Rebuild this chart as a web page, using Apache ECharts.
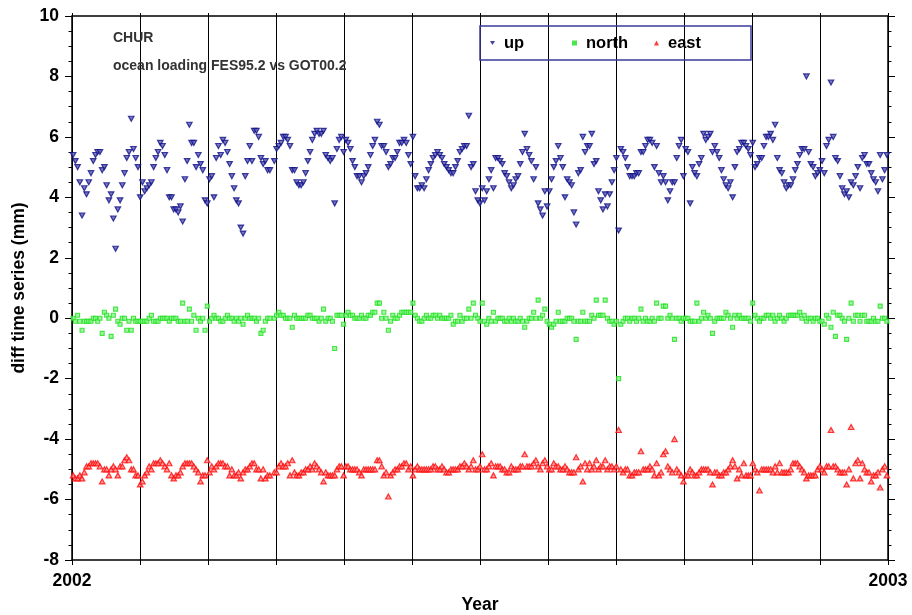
<!DOCTYPE html>
<html>
<head>
<meta charset="utf-8">
<title>CHUR ocean loading difference</title>
<script src="https://cdn.jsdelivr.net/npm/echarts@6/dist/echarts.min.js"></script>
<style>
  html, body { margin: 0; padding: 0; background: #fff; }
  #chart { width: 912px; height: 615px; }
</style>
</head>
<body>
<div id="chart"></div>
<script>
// Daily differences (mm) for station CHUR, 2002, one value per day (null = no solution).
const upValues = [
  5.4,5.2,5.0,4.5,3.4,4.3,4.1,4.5,4.8,5.2, 5.4,5.5,5.5,4.9,5.0,4.4,3.9,4.1,3.3,2.3, 3.6,3.9,4.4,4.8,5.3,5.5,6.6,5.6,5.3,5.0,
  4.0,4.5,4.2,4.3,4.4,4.5,5.0,5.3,5.5,5.8, 5.7,5.4,4.9,4.0,4.0,3.6,3.6,3.5,3.7,3.2, 4.6,5.2,6.4,5.8,5.8,5.0,5.4,5.1,4.9,3.9, 3.8,
  4.6,4.7,4.0,5.3,5.7,5.4,5.9,5.8,5.5,5.1, 4.7,4.3,3.9,3.8,3.0,2.8,4.7,5.2,5.7,5.2, 6.2,6.2,6.0,5.3,5.1,5.2,4.9,4.9,
  null,
  5.2,5.6,5.7,5.8,6.0,6.0,5.9,5.7,4.9,4.9, 4.5,4.4,4.4,4.5,4.8,5.2,5.5,5.9,6.1,6.2, 6.1,6.1,6.2,5.4,5.3,5.2,5.3,3.8,5.6,5.9, 6.0,
  5.5,5.9,5.8,5.6,5.2,5.0,4.7,4.7,4.5,4.7, 4.8,5.0,5.4,5.7,5.9,6.5,6.4,5.7,5.7,5.5, 5.0,5.1,5.3,5.3,5.5,5.8,5.8,5.9,5.8,5.4, 5.1,6.0,
  4.7,4.3,4.3,4.4,4.3,4.6,4.9,5.1,5.3,5.4, 5.5,5.4,5.3,5.1,5.0,4.9,4.8,4.8,5.0,5.2,
  5.5,5.6,5.7,5.7,6.7,5.0,5.1,4.2,3.9,3.8, 4.3,3.9,4.2,4.6,4.9,4.3,5.3,5.3,5.2,5.1,
  4.8,4.7,4.5,4.3,4.4,4.6,4.7,5.1,5.5,6.1, 5.6,5.4,5.2,4.6,5.0,3.8,3.6,3.4,4.2,3.7,
  4.2,4.6,5.0,5.2,5.7,5.3,5.0,4.0,4.6,4.5, 4.4,3.5,3.1,4.8,4.9,6.0,5.5,5.7,5.7,6.1,
  5.1,5.2,4.2,3.9,3.6,4.1,3.7,4.1,4.5,4.9, 5.3,2.9,5.6,5.5,5.3,5.0,4.7,4.7,4.7,4.8,
  4.8,5.5,5.5,5.7,5.9,5.9,5.8,5.0,5.7,4.8, 4.5,4.7,4.5,3.9,4.2,4.5,4.5,5.3,5.7,5.9,
  4.7,5.6,5.5,3.8,5.0,4.8,4.7,5.1,5.3,6.1, 5.9,6.0,6.1,5.5,5.7,5.5,5.3,4.9,4.6,4.4,
  4.3,4.5,4.0,5.0,5.5,5.6,5.8,5.8,5.7,5.6, 5.4,5.8,5.0,5.1,5.3,5.3,5.7,6.0,6.0,6.1,
  5.9,6.4,5.3,4.9,4.8,4.5,4.3,4.4,4.4,4.6, 4.9,5.1,5.4,5.6,5.6,8.0,5.5,5.1,5.0,4.7,
  4.8,4.9,5.2,4.8,5.7,5.9,7.8,6.0,5.3,5.2, 4.7,4.3,4.1,4.2,4.0,4.5,4.4,4.7,5.0,4.3,
  5.3,5.4,5.1,5.1,4.8,4.6,4.5,4.2,5.4,4.6, 4.9,5.4
];

const northValues = [
  0,-0.1,0.1,-0.1,-0.4,-0.1,-0.1,-0.1,-0.1,0, 0,-0.1,0,-0.5,0.2,0.1,0,-0.6,0.1,0.3, -0.1,-0.2,0,0,-0.4,-0.1,-0.4,0,-0.1,-0.1,
  -0.1,-0.1,-0.1,-0.1,0,0.1,-0.1,-0.1,-0.1,0, 0,0,0,-0.1,0,0,0,-0.1,-0.1,0.5, -0.1,-0.1,0.3,-0.1,0.1,-0.4,0,-0.1,0,-0.4, 0.4,
  -0.1,0,0.1,0,0,-0.1,-0.1,0,0.1,0, 0,-0.1,0,-0.1,0,-0.2,0,0.1,0,0, 0,-0.1,0,-0.5,-0.4,-0.1,0,0,
  null,
  0,0.1,0.2,0.1,0.1,0,0,0,-0.3,0.1, 0,0,0,0,0,0.1,0.1,0,0,0, -0.1,0,0.3,-0.1,0,0,-0.1,-1.0,0.1,0.1, 0.1,
  -0.2,0.1,0.2,0.1,0.1,0,0,0,0.1,0, 0,0.1,0.1,0.2,0.2,0.5,0.5,0,0.2,0, -0.4,-0.1,0.1,0,0,0.1,0.2,0.2,0.2,0.2, 0.2,0.5,
  0.1,0,-0.1,-0.1,0,0.1,0,0,0.1,0.1, 0,0.1,0,0,0,0,0.1,-0.2,-0.1,-0.1,
  0.1,-0.1,0,0,0.3,0,0.5,0.1,0,-0.1, 0.5,-0.1,-0.2,0,-0.1,0.2,-0.1,0,0,0,
  -0.1,-0.1,0,-0.1,0,-0.1,-0.1,0,-0.1,-0.3, -0.1,0,0,0.2,0,0.6,0,0.1,0.3,-0.1,
  -0.2,-0.3,-0.2,-0.1,0.2,-0.1,-0.1,-0.1,0,0, 0,-0.1,-0.7,-0.1,-0.1,0.2,-0.1,-0.1,-0.1,0.1,
  0,0.6,0.1,0.1,0.1,0.6,0,-0.1,-0.1,-0.2, -0.1,-2.0,-0.2,-0.1,0,0,-0.1,0,0,-0.1,
  0,0.3,-0.1,0,-0.1,-0.1,0,-0.1,0.5,0, 0,0.4,0.4,0,0.1,0,-0.7,0,0,-0.1,
  0,0,0,-0.1,-0.1,-0.1,0.5,-0.1,0,0.2, 0,0.1,0,-0.5,-0.1,0,0,0,0,0.2,
  0.1,0,-0.3,0.1,0,0.1,0,0,0,0, -0.1,0.5,0.1,0,-0.1,0,0,0.1,0.1,0,
  0.1,-0.1,0,0.1,0,-0.1,0,0.1,0.1,0.1, 0.1,0.1,0.2,0,0.1,-0.1,0,0,-0.1,0,
  0,-0.1,-0.1,-0.2,0.1,0,-0.3,0.2,-0.6,0.1, 0.1,0,-0.1,-0.7,0,0.5,-0.1,0.1,0.1,-0.1,
  0.1,0.1,-0.1,-0.1,-0.1,0,-0.1,-0.1,0.4,0, 0,-0.1
];

const eastValues = [
  -5.2,-5.3,-5.3,-5.2,-5.3,-5.1,-4.9,-4.9,-4.8,-4.8, -4.8,-4.8,-4.9,-5.4,-5.0,-5.0,-5.2,-5.0,-4.9,-5.0, -5.2,-4.9,-4.9,-4.7,-4.6,-4.7,-5.0,-5.0,-5.2,-5.2,
  -5.5,-5.4,-5.2,-5.1,-4.9,-5.0,-4.8,-4.8,-4.8,-4.7, -4.8,-4.9,-5.0,-4.8,-5.2,-5.3,-5.2,-5.2,-5.1,-4.9, -4.8,-4.8,-4.8,-4.8,-4.9,-5.0,-5.1,-5.4,-5.2,-5.2, -4.7,
  -5.1,-4.9,-5.0,-4.9,-4.8,-4.8,-4.8,-4.9,-4.9,-5.2, -5.0,-5.2,-5.2,-5.1,-5.3,-5.1,-5.0,-5.0,-4.9,-4.8, -4.8,-5.0,-5.0,-5.3,-5.0,-5.3,-5.2,-5.2,
  null,
  -5.1,-5.1,-4.9,-4.8,-4.9,-4.9,-4.8,-5.2,-4.7,-5.1, -5.2,-5.2,-5.1,-5.1,-5.0,-5.0,-4.9,-5.0,-4.8,-4.9, -5.0,-5.1,-5.4,-5.1,-5.2,-5.2,-5.2,-5.2,-5.0,-4.9, -4.9,
  -5.2,-4.9,-4.9,-5.0,-5.0,-5.0,-5.0,-5.1,-5.2,-5.0, -5.0,-5.0,-5.0,-5.0,-5.0,-4.7,-4.7,-4.9,-5.2,-5.1, -5.9,-5.2,-5.1,-5.0,-5.0,-4.9,-4.9,-4.8,-4.8,-5.0, -4.9,-5.2,
  -5.0,-4.9,-5.0,-5.0,-5.0,-5.0,-5.0,-5.0,-4.9,-4.9, -5.0,-5.0,-4.9,-5.0,-5.1,-5.1,-5.0,-5.0,-5.0,-5.0,
  -4.9,-4.9,-4.8,-4.9,-5.0,-4.9,-4.7,-5.0,-5.0,-4.9, -4.5,-5.0,-5.0,-4.9,-4.8,-5.2,-4.9,-4.9,-4.9,-5.0,
  -5.0,-5.1,-5.1,-4.9,-5.0,-5.0,-5.0,-4.9,-4.9,-4.5, -4.9,-4.9,-4.9,-4.8,-4.7,-4.9,-5.0,-4.8,-4.7,-4.9,
  -5.0,-5.0,-4.8,-4.9,-4.9,-5.0,-5.0,-4.9,-5.0,-5.1, -5.1,-5.1,-4.6,-5.0,-4.9,-5.4,-4.8,-5.0,-4.8,-5.0,
  -4.9,-4.7,-5.0,-4.9,-4.9,-4.7,-5.0,-4.9,-4.9,-5.0, -4.9,-3.7,-5.0,-5.1,-5.0,-5.0,-5.2,-5.2,-5.1,-5.1,
  -5.1,-4.4,-5.0,-5.0,-5.0,-4.9,-5.0,-5.2,-4.8,-5.2, -5.1,-4.5,-4.4,-4.9,-5.0,-5.1,-4.0,-5.0,-5.1,-5.2,
  -5.4,-5.2,-5.2,-5.0,-5.1,-5.2,-5.2,-5.1,-5.0,-5.0, -5.0,-5.0,-5.1,-5.5,-5.1,-5.1,-5.2,-5.2,-5.1,-5.1,
  -5.0,-4.9,-4.7,-4.9,-5.3,-5.0,-5.2,-4.8,-5.2,-5.2, -5.2,-4.8,-5.0,-5.1,-5.7,-5.0,-5.0,-5.0,-5.0,-5.0,
  -5.1,-4.9,-5.1,-4.8,-5.1,-5.1,-5.1,-5.1,-5.0,-4.8, -4.8,-4.8,-4.9,-5.0,-5.1,-5.3,-5.2,-5.2,-5.2,-5.2,
  -5.0,-4.9,-5.0,-5.1,-4.9,-4.9,-3.7,-4.9,-4.9,-5.0, -5.1,-5.1,-5.1,-5.5,-5.0,-3.6,-5.3,-4.8,-4.7,-5.3,
  -4.8,-5.0,-5.1,-5.1,-5.4,-5.2,-5.2,-5.1,-5.6,-5.0, -4.9,-5.2
];

const seriesNames = ['up', 'north', 'east'];
const yearLabels = ['2002', '2003'];
const stationName = 'CHUR';
const subtitle = 'ocean loading FES95.2 vs GOT00.2';

const DAYS_IN_YEAR = 365;
const MONTHS = 12;
const FONT = 'Liberation Sans, Arial, Helvetica, sans-serif';

// x is measured in months since the start of the year; sample i sits mid-day.
function toPoints(values) {
  const pts = [];
  values.forEach((v, i) => {
    if (v !== null) pts.push([(i + 0.5) * MONTHS / DAYS_IN_YEAR, v]);
  });
  return pts;
}

const colors = {
  up:    { stroke: '#12128a', fill: '#5a5ab4' },
  north: { stroke: '#1ee01e', fill: '#8af58a' },
  east:  { stroke: '#ff0a0a', fill: '#ff8a8a' }
};

const axisLineStyle = { color: '#000', width: 1.5 };
const tickLine = { color: '#000', width: 1 };

const chart = echarts.init(document.getElementById('chart'), null, { renderer: 'canvas' });

chart.setOption({
  backgroundColor: '#fff',
  animation: false,
  textStyle: { fontFamily: FONT },
  // fixed plot rectangle; labels are placed outside it without shrinking the grid
  grid: { left: 72, right: 24, top: 16, bottom: 55, containLabel: false, outerBoundsMode: 'none' },
  title: [
    { text: stationName, left: 113, top: 31, padding: 0,
      textStyle: { fontFamily: FONT, fontSize: 14, fontWeight: 'bold', color: '#333' } },
    { text: subtitle, left: 113, top: 59, padding: 0,
      textStyle: { fontFamily: FONT, fontSize: 14, fontWeight: 'bold', color: '#333' } }
  ],
  legend: {
    left: 480, top: 26,
    orient: 'horizontal',
    padding: [8, 33, 8, 10],
    itemGap: 18,
    itemWidth: 5, itemHeight: 5,
    borderColor: '#3b3b9c', borderWidth: 1.5, borderRadius: 0,
    backgroundColor: 'transparent',
    textStyle: { fontFamily: FONT, fontSize: 16.5, fontWeight: 'bold', color: '#000',
                 width: 50, lineHeight: 18, padding: [0, 0, 0, 4] },
    selectedMode: false,
    data: [
      { name: 'up', icon: 'path://M0,0L10,0L5,8Z', itemStyle: { color: colors.up.stroke, borderWidth: 0 } },
      { name: 'north', icon: 'rect', itemStyle: { color: colors.north.stroke, borderWidth: 0 } },
      { name: 'east', icon: 'triangle', itemStyle: { color: colors.east.stroke, borderWidth: 0 } }
    ]
  },
  xAxis: [
    {
      type: 'value', position: 'bottom', min: 0, max: MONTHS, interval: 1,
      axisLine: { show: true, onZero: false, lineStyle: axisLineStyle },
      axisTick: { show: true, inside: false, length: 5, lineStyle: tickLine },
      splitLine: { show: true, lineStyle: { color: '#000', width: 1 } },
      axisLabel: {
        showMinLabel: true, showMaxLabel: true, margin: 12,
        fontFamily: FONT, fontSize: 17.5, fontWeight: 'bold', color: '#000',
        formatter: v => (v === 0 ? yearLabels[0] : (v === MONTHS ? yearLabels[1] : ''))
      },
      name: 'Year', nameLocation: 'middle', nameGap: 36,
      nameTextStyle: { fontFamily: FONT, fontSize: 17.5, fontWeight: 'bold', color: '#000' }
    },
    {
      type: 'value', position: 'top', min: 0, max: MONTHS, interval: 1,
      axisLine: { show: true, onZero: false, lineStyle: axisLineStyle },
      axisTick: { show: true, inside: false, length: 3, lineStyle: tickLine },
      splitLine: { show: false },
      axisLabel: { show: false }
    }
  ],
  yAxis: [
    {
      type: 'value', position: 'left', min: -8, max: 10, interval: 2,
      axisLine: { show: true, onZero: false, lineStyle: axisLineStyle },
      axisTick: { show: true, inside: false, length: 7, lineStyle: tickLine },
      minorTick: { show: true, splitNumber: 4, length: 3.5, lineStyle: tickLine },
      splitLine: { show: false },
      axisLabel: { margin: 13, fontFamily: FONT, fontSize: 17.5, fontWeight: 'bold', color: '#000' },
      name: 'diff time series (mm)', nameLocation: 'middle', nameGap: 42,
      nameTextStyle: { fontFamily: FONT, fontSize: 17.5, fontWeight: 'bold', color: '#000' }
    },
    {
      type: 'value', position: 'right', min: -8, max: 10, interval: 2,
      axisLine: { show: true, onZero: false, lineStyle: axisLineStyle },
      axisTick: { show: true, inside: false, length: 7, lineStyle: tickLine },
      minorTick: { show: true, splitNumber: 4, length: 3.5, lineStyle: tickLine },
      splitLine: { show: false },
      axisLabel: { show: false }
    }
  ],
  series: [
    {
      name: seriesNames[0], type: 'scatter', xAxisIndex: 0, yAxisIndex: 0,
      symbol: 'triangle', symbolRotate: 180, symbolSize: [5.5, 5],
      itemStyle: { color: colors.up.fill, borderColor: colors.up.stroke, borderWidth: 1.2 },
      emphasis: { disabled: true },
      data: toPoints(upValues), z: 3
    },
    {
      name: seriesNames[1], type: 'scatter', xAxisIndex: 0, yAxisIndex: 0,
      symbol: 'rect', symbolSize: 4,
      itemStyle: { color: colors.north.fill, borderColor: colors.north.stroke, borderWidth: 1.1 },
      emphasis: { disabled: true },
      data: toPoints(northValues), z: 3
    },
    {
      name: seriesNames[2], type: 'scatter', xAxisIndex: 0, yAxisIndex: 0,
      symbol: 'triangle', symbolSize: [5.5, 5],
      itemStyle: { color: colors.east.fill, borderColor: colors.east.stroke, borderWidth: 1.2 },
      emphasis: { disabled: true },
      data: toPoints(eastValues), z: 3
    }
  ]
});
</script>
</body>
</html>
